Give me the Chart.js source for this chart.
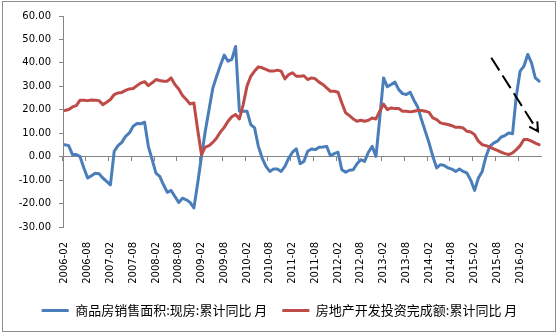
<!DOCTYPE html>
<html>
<head>
<meta charset="utf-8">
<script src="https://cdn.jsdelivr.net/npm/chart.js@4.4.1/dist/chart.umd.min.js"></script>
<style>
  body { margin: 0; background: #fff; }
  #wrap { position: relative; width: 559px; height: 335px; }
  #frame { position: absolute; left: 2px; top: 1px; width: 554px; height: 331px; border: 1px solid #8c8c8c; box-sizing: border-box; pointer-events: none; }
  canvas { position: absolute; left: 0; top: 0; }
</style>
</head>
<body>
<div id="wrap">
  <canvas id="chart" width="559" height="335"></canvas>
  <div id="frame"></div>
</div>
<script>
// months 2006-02 .. 2016-07
const months = [];
for (let y = 2006; y <= 2016; y++) {
  for (let m = 1; m <= 12; m++) {
    if (y === 2006 && m < 2) continue;
    if (y === 2016 && m > 7) continue;
    months.push(y + "-" + String(m).padStart(2, "0"));
  }
}

// 商品房销售面积:现房:累计同比
const salesArea = [
  5.1, 4.7, 0.9, 0.9, 0.0, -4.8, -9.1, -8.1, -7.1, -7.3, -9.1,
  -10.5, -12.0, 2.3, 4.7, 6.1, 8.7, 10.1, 13.0, 14.1, 14.0, 14.7, 4.4, -1.3,
  -7.0, -8.4, -12.0, -15.2, -14.4, -17.0, -19.5, -17.7, -18.4, -19.5, -21.9,
  -11.3, 0.1, 10.8, 20.1, 29.3, 34.3, 39.0, 43.3, 40.7, 41.5, 47.0, 19.4,
  19.4, 19.4, 13.7, 12.3, 4.4, -0.6, -4.1, -6.3, -5.3, -5.3, -6.3, -4.1,
  -0.6, 1.9, 3.3, -3.0, -2.0, 2.3, 3.3, 3.0, 4.0, 4.1, 4.4, 0.4,
  1.3, 1.9, -5.6, -6.6, -5.8, -5.6, -3.0, -1.3, -2.0, 1.9, 4.4, 0.1,
  16.5, 33.6, 29.8, 30.8, 31.8, 28.6, 26.9, 26.5, 27.5, 24.1, 21.2, 15.8,
  10.8, 5.8, 0.1, -4.8, -3.4, -3.8, -4.8, -5.3, -6.3, -5.3, -6.3, -7.0,
  -10.1, -14.4, -9.1, -6.3, 0.1, 4.4, 5.8, 6.6, 8.4, 9.0, 10.1, 9.8,
  26.0, 36.5, 38.6, 43.6, 40.0, 33.6, 32.2
];

// 房地产开发投资完成额:累计同比
const investment = [
  19.7, 20.1, 21.2, 21.8, 24.1, 24.1, 23.9, 24.2, 24.1, 23.9, 22.2,
  23.2, 24.4, 26.5, 27.2, 27.4, 28.3, 28.9, 29.1, 30.3, 31.4, 32.0, 30.3, 31.5,
  32.9, 32.5, 32.2, 32.2, 33.6, 30.8, 28.9, 26.1, 24.4, 22.5, 22.9,
  11.5, 0.9, 4.1, 4.7, 6.1, 8.0, 10.5, 12.5, 15.1, 17.0, 18.0, 16.1,
  22.2, 30.1, 34.3, 36.5, 38.3, 37.9, 37.2, 36.5, 36.5, 36.9, 36.5, 33.2,
  35.0, 35.8, 34.3, 34.3, 34.5, 32.9, 33.6, 33.2, 31.8, 30.8, 29.3, 27.9,
  27.9, 27.5, 22.9, 18.7, 17.5, 16.1, 15.1, 15.5, 15.1, 15.5, 16.5, 16.1,
  19.4, 22.4, 20.1, 20.8, 20.5, 20.5, 19.4, 19.4, 19.1, 19.4, 19.7, 19.7,
  19.4, 18.9, 16.5, 15.8, 14.4, 14.0, 13.7, 13.2, 12.5, 12.6, 12.2, 10.8,
  10.5, 9.4, 6.6, 5.1, 4.7, 4.1, 3.3, 2.7, 1.9, 1.3, 0.9, 1.6,
  3.0, 4.7, 7.3, 7.3, 6.6, 5.8, 5.1
];

const seriesNames = ["商品房销售面积:现房:累计同比 月", "房地产开发投资完成额:累计同比 月"];

// dashed trend arrow, in data space: [month index, value]
const arrowFrom = [112.4, 42.2];
const arrowTo = [124.7, 10.8];

const axisGray = "#868686";

const arrowPlugin = {
  id: "trendArrow",
  afterDatasetsDraw(chart) {
    const xs = chart.scales.x, ys = chart.scales.y;
    const x1 = xs.getPixelForValue(arrowFrom[0]), y1 = ys.getPixelForValue(arrowFrom[1]);
    const x2 = xs.getPixelForValue(arrowTo[0]), y2 = ys.getPixelForValue(arrowTo[1]);
    const ctx = chart.ctx;
    ctx.save();
    ctx.strokeStyle = "#000";
    ctx.lineWidth = 2;
    ctx.setLineDash([15, 6]);
    ctx.beginPath();
    ctx.moveTo(x1, y1);
    ctx.lineTo(x2, y2);
    ctx.stroke();
    ctx.setLineDash([]);
    const a = Math.atan2(y2 - y1, x2 - x1);
    const len = 10, spread = 0.5;
    ctx.beginPath();
    ctx.moveTo(x2 - len * Math.cos(a - spread), y2 - len * Math.sin(a - spread));
    ctx.lineTo(x2, y2);
    ctx.lineTo(x2 - len * Math.cos(a + spread), y2 - len * Math.sin(a + spread));
    ctx.stroke();
    ctx.restore();
  }
};

const tickFont = { family: "'DejaVu Sans', Verdana, sans-serif", size: 10 };

// keep rotated labels from pushing the plot edges in
const noSidePadding = s => { s.paddingLeft = 0; s.paddingRight = 0; };

new Chart(document.getElementById("chart"), {
  type: "line",
  data: {
    labels: months,
    datasets: [
      { label: seriesNames[0], data: salesArea, borderColor: "#4a7ebb", backgroundColor: "#4a7ebb", borderWidth: 3, order: 1 },
      { label: seriesNames[1], data: investment, borderColor: "#be4b48", backgroundColor: "#be4b48", borderWidth: 3, order: 0 }
    ]
  },
  options: {
    responsive: false,
    animation: false,
    layout: { padding: { top: 16, right: 18, left: 18, bottom: 8 } },
    elements: {
      line: { tension: 0, borderJoinStyle: "round", borderCapStyle: "round" },
      point: { radius: 0 }
    },
    plugins: {
      tooltip: { enabled: false },
      legend: {
        position: "bottom",
        labels: {
          usePointStyle: true,
          pointStyle: "line",
          pointStyleWidth: 27,
          padding: 15,
          color: "#000",
          font: { family: "'Noto Sans CJK SC', sans-serif", size: 13 },
          sort: (a, b) => a.datasetIndex - b.datasetIndex
        }
      }
    },
    scales: {
      x: {
        type: "category",
        position: { y: 0 },
        offset: true,
        afterFit: noSidePadding,
        border: { color: axisGray, width: 1 },
        grid: {
          offset: true,
          drawOnChartArea: false,
          drawTicks: true,
          tickLength: 4,
          color: c => (c.index % 6 === 0 ? axisGray : "rgba(0,0,0,0)")
        },
        ticks: { display: false, autoSkip: false }
      },
      x2: {
        type: "category",
        position: "bottom",
        offset: true,
        labels: months,
        afterFit: s => { s.height = 62; noSidePadding(s); },
        border: { display: false },
        grid: { display: false, drawTicks: false },
        ticks: {
          autoSkip: false,
          minRotation: 90,
          maxRotation: 90,
          padding: 15,
          color: "#000",
          font: tickFont,
          callback: (v, i) => (i % 6 === 0 ? months[i] : "")
        }
      },
      y: {
        min: -30,
        max: 60,
        afterFit: s => { s.width = 45; },
        border: { color: axisGray, width: 1 },
        grid: { drawOnChartArea: false, tickLength: 4, color: axisGray },
        ticks: {
          stepSize: 10,
          padding: 8,
          color: "#000",
          font: tickFont,
          callback: v => v.toFixed(2)
        }
      }
    }
  },
  plugins: [arrowPlugin]
});
</script>
</body>
</html>
